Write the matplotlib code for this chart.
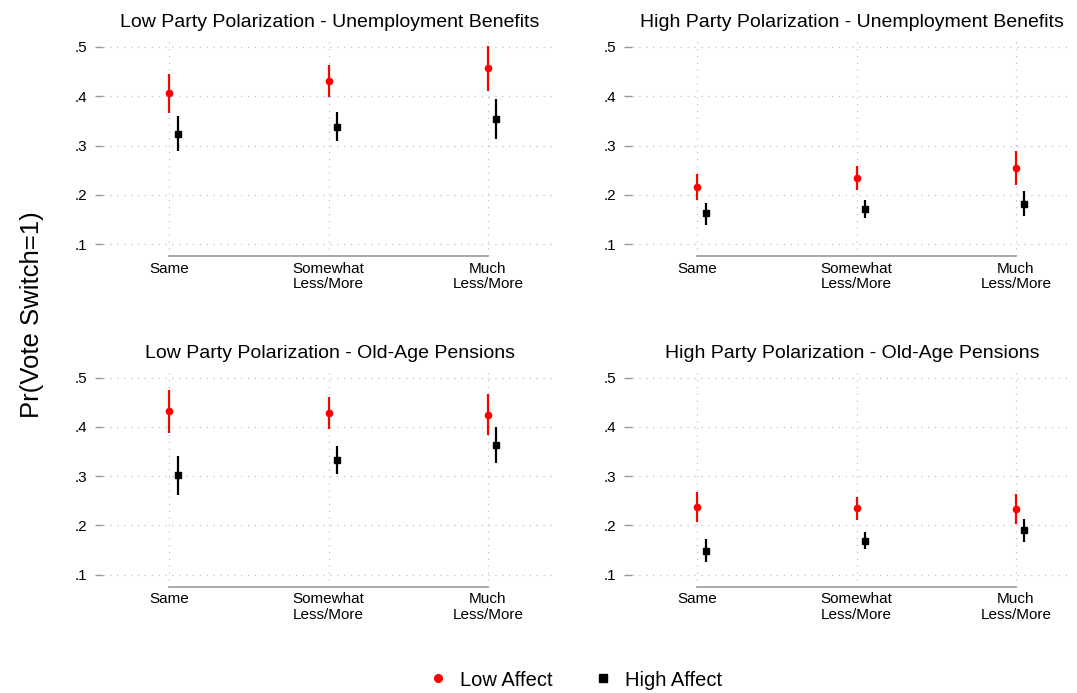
import matplotlib.pyplot as plt
from matplotlib.lines import Line2D

plt.rcParams['font.family'] = ['Liberation Sans', 'DejaVu Sans']

categories = ["Same", "Somewhat\nLess/More", "Much\nLess/More"]
titles = [
    "Low Party Polarization - Unemployment Benefits",
    "High Party Polarization - Unemployment Benefits",
    "Low Party Polarization - Old-Age Pensions",
    "High Party Polarization - Old-Age Pensions",
]
yticks = [0.1, 0.2, 0.3, 0.4, 0.5]
ytick_labels = [".1", ".2", ".3", ".4", ".5"]

# point estimate, lower CI, upper CI for each panel
low_est = [[0.406, 0.431, 0.457], [0.216, 0.235, 0.254],
           [0.432, 0.429, 0.424], [0.238, 0.236, 0.233]]
low_lo = [[0.367, 0.399, 0.411], [0.189, 0.210, 0.219],
          [0.388, 0.396, 0.383], [0.206, 0.211, 0.202]]
low_hi = [[0.445, 0.463, 0.502], [0.243, 0.258, 0.288],
          [0.476, 0.460, 0.466], [0.268, 0.258, 0.263]]

high_est = [[0.323, 0.338, 0.354], [0.162, 0.172, 0.182],
            [0.302, 0.333, 0.364], [0.149, 0.168, 0.190]]
high_lo = [[0.288, 0.310, 0.314], [0.139, 0.153, 0.157],
           [0.262, 0.304, 0.326], [0.126, 0.152, 0.167]]
high_hi = [[0.359, 0.368, 0.395], [0.184, 0.189, 0.207],
           [0.341, 0.361, 0.400], [0.172, 0.186, 0.213]]

W, H = 1077, 693
fig = plt.figure(figsize=(W / 100, H / 100), dpi=100)

# panel boxes in pixels: x0, x1, y0(top), y1(bottom), x of first category
boxes = [(103, 557, 38, 256, 169.3), (632, 1072, 38, 256, 697.3),
         (103, 557, 368.7, 586.7, 169.3), (632, 1072, 368.7, 586.7, 697.3)]
step = 159.3
offset = 0.052
grid_kw = dict(color="#c0c0c0", lw=0.9, dashes=(1.0, 4.5))

for i, (x0, x1, y0, y1, c0) in enumerate(boxes):
    ax = fig.add_axes([x0 / W, 1 - y1 / H, (x1 - x0) / W, (y1 - y0) / H])
    ax.set_xlim((x0 - c0) / step, (x1 - c0) / step)
    # .5 sits 9 px below the box top, 0.1 per 49.25 px
    ax.set_ylim(0.1 - (y1 - y0 - 9 - 4 * 49.25) / 492.5, 0.5 + 9 / 492.5)

    xs = range(len(categories))
    for v in yticks:
        ax.axhline(v, **grid_kw, zorder=0)
    for x in xs:
        ax.axvline(x, **grid_kw, zorder=0)

    xl = [x for x in xs]
    ax.vlines(xl, low_lo[i], low_hi[i], color="#ff0000", lw=1.6, zorder=2)
    ax.plot(xl, low_est[i], "o", color="#ff0000", ms=4.5, zorder=3)
    xh = [x + offset for x in xs]
    ax.vlines(xh, high_lo[i], high_hi[i], color="black", lw=1.6, zorder=2)
    ax.plot(xh, high_est[i], "s", color="black", ms=4.5, zorder=3)

    ax.set_yticks(yticks)
    ax.set_yticklabels(ytick_labels, fontsize=11)
    ax.set_xticks(list(xs))
    ax.set_xticklabels(categories, fontsize=11, linespacing=1.12)
    ax.tick_params(axis="y", length=6, width=1, color="#999999", pad=5)
    ax.tick_params(axis="x", length=0, pad=4)
    for s in ["left", "right", "top"]:
        ax.spines[s].set_visible(False)
    ax.spines["bottom"].set_bounds(0, 2)
    ax.spines["bottom"].set_color("#999999")
    ax.spines["bottom"].set_linewidth(1.2)
    ax.set_title(titles[i], fontsize=14, pad=8)

fig.text(32 / W, 1 - 315 / H, "Pr(Vote Switch=1)", rotation=90,
         fontsize=18.5, ha="center", va="center")

handles = [
    Line2D([], [], marker="o", color="#ff0000", ls="", ms=5.5),
    Line2D([], [], marker="s", color="black", ls="", ms=5.5),
]
fig.legend(handles, ["Low Affect", "High Affect"], loc="center",
           bbox_to_anchor=(575 / W, 1 - 680 / H), ncol=2, frameon=False,
           fontsize=14.5, handletextpad=0.6, columnspacing=2.0,
           handlelength=1.0)

fig.savefig("out.png", dpi=100)
